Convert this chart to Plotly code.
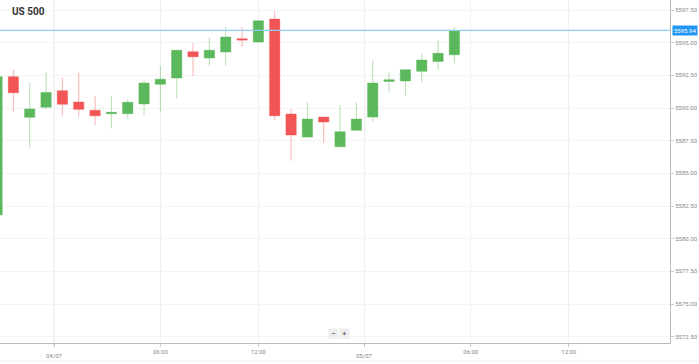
import plotly.graph_objects as go

# ---- data (hourly candles, US 500) ----
candle_index = list(range(29))
open_ = [5581.82, 5592.40, 5589.29, 5590.06, 5591.33, 5590.46, 5589.83, 5589.57, 5589.57, 5590.31,
         5591.82, 5592.30, 5594.31, 5593.83, 5594.29, 5595.30, 5595.05, 5596.81, 5589.54, 5587.78,
         5589.31, 5587.04, 5588.30, 5589.31, 5592.04, 5592.07, 5592.81, 5593.57, 5594.08]
high_ = [5592.50, 5592.96, 5591.94, 5592.70, 5592.32, 5592.70, 5590.92, 5590.92, 5590.67, 5592.14,
         5593.22, 5594.42, 5594.95, 5595.41, 5596.22, 5596.18, 5596.72, 5597.42, 5589.93, 5590.46,
         5589.36, 5590.21, 5590.46, 5593.67, 5592.70, 5592.93, 5594.19, 5595.18, 5596.18]
low_ = [5581.70, 5589.72, 5586.96, 5589.93, 5589.44, 5589.34, 5588.70, 5588.45, 5589.21, 5589.44,
        5589.72, 5590.71, 5592.45, 5593.22, 5593.22, 5594.69, 5595.00, 5589.08, 5585.97, 5587.78,
        5587.35, 5587.04, 5588.30, 5588.95, 5591.20, 5590.94, 5591.94, 5592.93, 5593.44]
close_ = [5592.40, 5591.17, 5589.93, 5591.20, 5590.29, 5589.90, 5589.41, 5589.67, 5590.44, 5591.91,
          5592.20, 5594.42, 5593.93, 5594.42, 5595.43, 5595.20, 5596.68, 5589.41, 5587.94, 5589.16,
          5588.93, 5588.19, 5589.16, 5591.91, 5592.17, 5592.93, 5593.67, 5594.19, 5595.94]

y_ticks = [5572.50, 5575.00, 5577.50, 5580.00, 5582.50, 5585.00, 5587.50, 5590.00, 5592.50, 5595.00, 5597.50]
x_tick_pos = [3.5, 10, 16, 22.5, 29, 35]
x_tick_text = ["", "06:00", "12:00", "", "06:00", "12:00"]
day_pos = [3.5, 22.5]
day_text = ["04/07", "05/07"]
title_text = "US 500"

GREEN = "#5cb85c"
RED = "#f25555"
FONT = "Roboto, Arial, sans-serif"
PLOT_W, PLOT_H = 670, 343

fig = go.Figure()
fig.add_trace(go.Candlestick(
    x=candle_index, open=open_, high=high_, low=low_, close=close_,
    increasing=dict(fillcolor=GREEN, line=dict(color="rgba(92,184,92,0.45)", width=1)),
    decreasing=dict(fillcolor=RED, line=dict(color="rgba(242,85,85,0.45)", width=1)),
    whiskerwidth=0, showlegend=False, hoverinfo="skip",
))

last_close = close_[-1]
shapes = []
for d in day_pos:
    shapes.append(dict(type="line", xref="x", yref="paper", x0=d, x1=d, y0=0, y1=1,
                       line=dict(color="#e2e2e2", width=1), layer="below"))
    shapes.append(dict(type="line", xref="x", yref="paper", x0=d, x1=d, y0=0, y1=-6/PLOT_H,
                       line=dict(color="#bbbbbb", width=1, dash="dot")))
shapes.append(dict(type="line", xref="paper", yref="y", x0=0, x1=1, y0=last_close, y1=last_close,
                   line=dict(color="#90cdf4", width=1.2)))
shapes.append(dict(type="line", xref="paper", yref="paper", x0=0, x1=699/PLOT_W, y0=-18/PLOT_H, y1=-18/PLOT_H,
                   line=dict(color="#eeeeee", width=1)))

annotations = [
    dict(text="<b>" + title_text + "</b>", xref="paper", yref="paper", x=10/PLOT_W, y=1-12/PLOT_H,
         xanchor="left", yanchor="middle", showarrow=False, font=dict(size=10, color="#333", family=FONT)),
    dict(text=f"{last_close:.2f}", xref="paper", yref="y", x=1.003, y=last_close, xanchor="left",
         yanchor="middle", showarrow=False, bgcolor="#2196f3", borderpad=1,
         font=dict(size=6, color="white", family=FONT)),
    dict(text="−", xref="paper", yref="paper", x=333/PLOT_W, y=(343-333)/PLOT_H, xanchor="center",
         yanchor="middle", showarrow=False, bgcolor="#eeeeee", borderpad=0,
         font=dict(size=8, color="#444", family=FONT), width=9, height=9),
    dict(text="+", xref="paper", yref="paper", x=344/PLOT_W, y=(343-333)/PLOT_H, xanchor="center",
         yanchor="middle", showarrow=False, bgcolor="#eeeeee", borderpad=0,
         font=dict(size=8, color="#444", family=FONT), width=9, height=9),
]
for p, t in zip(day_pos, day_text):
    annotations.append(dict(text=t, xref="x", yref="paper", x=p, y=-12/PLOT_H, xanchor="center",
                            yanchor="middle", showarrow=False, font=dict(size=6, color="#888", family=FONT)))

fig.update_layout(
    width=699, height=364,
    margin=dict(l=0, r=29, t=0, b=21, autoexpand=False),
    paper_bgcolor="white", plot_bgcolor="white",
    font=dict(family=FONT, size=6, color="#888"),
    shapes=shapes, annotations=annotations, boxgap=0.1,
    xaxis=dict(range=[0.18, 41.2], tickmode="array", tickvals=x_tick_pos, ticktext=x_tick_text,
               showgrid=True, gridcolor="#f0f0f0", zeroline=False, showline=True, linecolor="#bbbbbb",
               linewidth=1, ticks="outside", ticklen=3, tickcolor="#cccccc", automargin=False,
               rangeslider=dict(visible=False), fixedrange=True, tickfont=dict(size=6, color="#888")),
    yaxis=dict(range=[5572.02, 5598.27], side="right", tickmode="array", tickvals=y_ticks,
               ticktext=[f"{v:.2f}" for v in y_ticks], showgrid=True, gridcolor="#f4f4f4",
               zeroline=False, showline=True, linecolor="#bbbbbb", linewidth=1, ticks="outside",
               ticklen=3, tickcolor="#cccccc", tickfont=dict(size=6, color="#888"), fixedrange=True,
               automargin=False),
)

fig.write_html("out.html", config={"displayModeBar": False},
               post_script="document.body.style.margin='0';document.body.style.overflow='hidden';")
